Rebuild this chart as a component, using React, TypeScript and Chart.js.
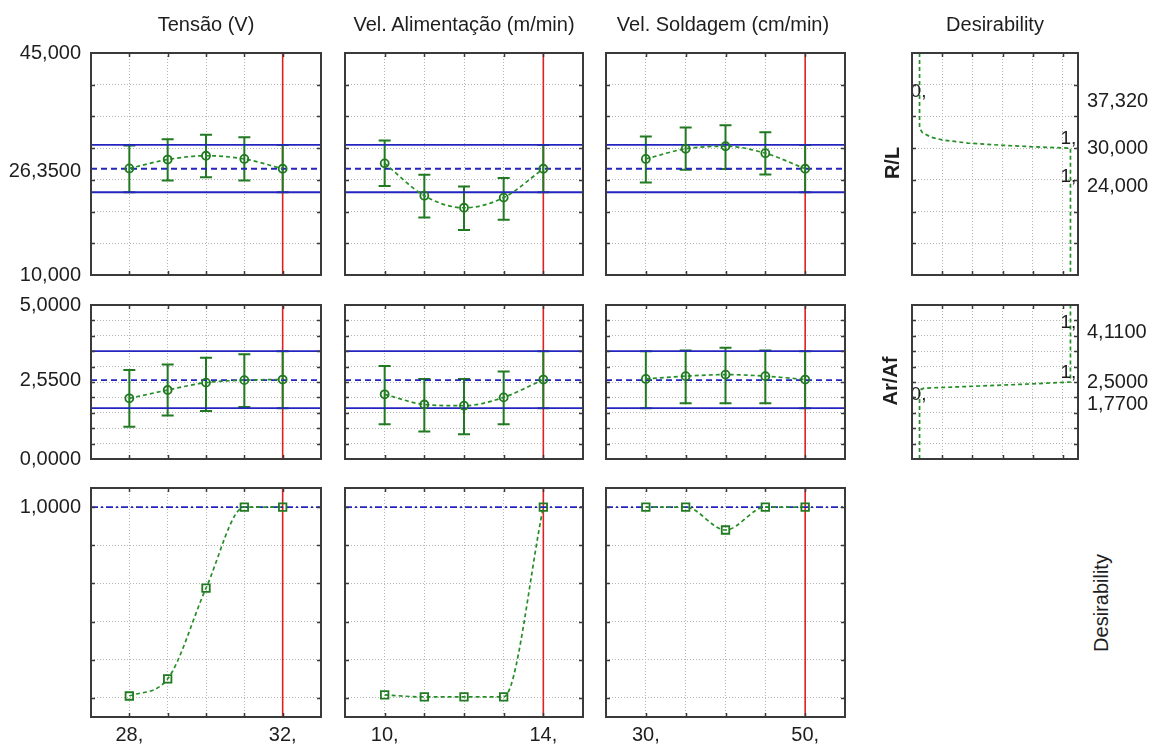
import React, { useEffect, useRef } from "react";
import { Chart, registerables } from "chart.js";

Chart.register(...registerables);

// ================= DATA =================
const COLUMN_TITLES = ["Tensão (V)", "Vel. Alimentação (m/min)", "Vel. Soldagem (cm/min)", "Desirability"];
const ROW_TITLES = ["R/L", "Ar/Af", "Desirability"];

// factor levels (x categories)
const TENSAO_LEVELS = [28, 29, 30, 31, 32];
const VALIM_LEVELS = [10, 11, 12, 13, 14];
const VSOLD_LEVELS = [30, 35, 40, 45, 50];
const CURRENT_SETTINGS = [32, 14, 50];

const TENSAO_RANGE = [27, 33];
const VALIM_RANGE = [9, 15];
const VSOLD_RANGE = [25, 55];

const TENSAO_TICKS = [28, 32];
const TENSAO_TICK_LABELS = ["28,", "32,"];
const VALIM_TICKS = [10, 14];
const VALIM_TICK_LABELS = ["10,", "14,"];
const VSOLD_TICKS = [30, 50];
const VSOLD_TICK_LABELS = ["30,", "50,"];

// R/L response
const RL_RANGE = [10, 45];
const RL_GRID = [15, 20, 25, 30, 35, 40];
const RL_LEFT_TICKS = [10, 26.35, 45];
const RL_LEFT_LABELS = ["10,000", "26,3500", "45,000"];
const RL_PRED = 26.75;
const RL_CI_LO = 23.05;
const RL_CI_HI = 30.5;
const RL_TENSAO_MEAN = [26.8, 28.2, 28.8, 28.3, 26.75];
const RL_TENSAO_LO = [23.05, 24.9, 25.4, 24.9, 23.05];
const RL_TENSAO_HI = [30.4, 31.4, 32.1, 31.7, 30.5];
const RL_VALIM_MEAN = [27.6, 22.5, 20.6, 22.2, 26.75];
const RL_VALIM_LO = [24.05, 19.05, 17.1, 18.7, 23.05];
const RL_VALIM_HI = [31.2, 25.8, 23.95, 25.3, 30.5];
const RL_VSOLD_MEAN = [28.3, 29.9, 30.3, 29.2, 26.75];
const RL_VSOLD_LO = [24.6, 26.6, 26.7, 25.85, 23.05];
const RL_VSOLD_HI = [31.85, 33.25, 33.6, 32.5, 30.5];

// Ar/Af response
const AR_RANGE = [0, 5];
const AR_GRID = [0.5, 1, 1.5, 2, 2.5, 3, 3.5, 4, 4.5];
const AR_LEFT_TICKS = [0, 2.55, 5];
const AR_LEFT_LABELS = ["0,0000", "2,5500", "5,0000"];
const AR_PRED = 2.56;
const AR_CI_LO = 1.65;
const AR_CI_HI = 3.5;
const AR_TENSAO_MEAN = [1.97, 2.24, 2.48, 2.56, 2.58];
const AR_TENSAO_LO = [1.05, 1.41, 1.56, 1.69, 1.65];
const AR_TENSAO_HI = [2.89, 3.07, 3.29, 3.4, 3.5];
const AR_VALIM_MEAN = [2.1, 1.77, 1.73, 2.0, 2.58];
const AR_VALIM_LO = [1.13, 0.89, 0.8, 1.13, 1.65];
const AR_VALIM_HI = [3.02, 2.6, 2.6, 2.84, 3.5];
const AR_VSOLD_MEAN = [2.6, 2.69, 2.74, 2.69, 2.58];
const AR_VSOLD_LO = [1.65, 1.81, 1.81, 1.81, 1.65];
const AR_VSOLD_HI = [3.5, 3.52, 3.61, 3.52, 3.5];

// overall desirability
const DES_RANGE = [-0.1, 1.1];
const DES_GRID = [0, 0.2, 0.4, 0.6, 0.8, 1];
const DES_LEFT_TICKS = [1];
const DES_LEFT_LABELS = ["1,0000"];
const DES_PRED = 1;
const DES_TENSAO = [0.01, 0.1, 0.575, 1, 1];
const DES_VALIM = [0.016, 0.005, 0.005, 0.005, 1];
const DES_VSOLD = [1, 1, 0.88, 1, 1];

// individual desirability functions (right column)
const DES_X_RANGE = [-0.05, 1.05];
const DES_X_GRID = [0.15, 0.35, 0.55, 0.75, 0.95];
const RL_RIGHT_TICKS = [24, 30, 37.32];
const RL_RIGHT_LABELS = ["24,000", "30,000", "37,320"];
const AR_RIGHT_TICKS = [1.77, 2.5, 4.11];
const AR_RIGHT_LABELS = ["1,7700", "2,5000", "4,1100"];
const RL_DES_CURVE_D = [0, 0, 0.02, 0.08, 0.15, 0.32, 0.55, 0.76, 1, 1];
const RL_DES_CURVE_V = [45, 33.2, 32.4, 31.7, 31.3, 30.8, 30.45, 30.2, 30.0, 10];
const AR_DES_CURVE_D = [0, 0, 0.03, 0.4, 0.75, 1, 1];
const AR_DES_CURVE_V = [0, 2.24, 2.3, 2.37, 2.44, 2.5, 5];
const RL_DES_MARK_D = [0, 1, 1];
const RL_DES_MARK_V = [37.32, 30, 24];
const RL_DES_MARK_T = ["0,", "1,", "1,"];
const AR_DES_MARK_D = [0, 1, 1];
const AR_DES_MARK_V = [1.77, 2.5, 4.11];
const AR_DES_MARK_T = ["0,", "1,", "1,"];

// ================= STYLE / LAYOUT =================
const GREEN = "#217a21";
const GREEN_DASH = "#268e26";
const BLUE = "#2424c0";
const RED = "#dd2020";
const GRID = "#b4b4b4";
const FRAME = "#3a3a3a";
const INK = "#1e1e1e";
const FONT = "'Liberation Sans', Arial, Helvetica, sans-serif";
const PAD = 20;

const COLS = [
  { l: 91, w: 230 },
  { l: 345, w: 238 },
  { l: 606, w: 239 },
  { l: 912, w: 166 },
];
const ROWS = [
  { t: 53, h: 222 },
  { t: 305, h: 154 },
  { t: 488, h: 229 },
];

// ================= HELPERS =================
const FACTORS = [
  { levels: TENSAO_LEVELS, range: TENSAO_RANGE, ticks: TENSAO_TICKS, labels: TENSAO_TICK_LABELS, current: CURRENT_SETTINGS[0] },
  { levels: VALIM_LEVELS, range: VALIM_RANGE, ticks: VALIM_TICKS, labels: VALIM_TICK_LABELS, current: CURRENT_SETTINGS[1] },
  { levels: VSOLD_LEVELS, range: VSOLD_RANGE, ticks: VSOLD_TICKS, labels: VSOLD_TICK_LABELS, current: CURRENT_SETTINGS[2] },
];

const RESPONSES: any[] = [
  {
    range: RL_RANGE, grid: RL_GRID, leftTicks: RL_LEFT_TICKS, leftLabels: RL_LEFT_LABELS,
    pred: RL_PRED, ciLo: RL_CI_LO, ciHi: RL_CI_HI, marker: "circle", predDash: [6, 4],
    means: [RL_TENSAO_MEAN, RL_VALIM_MEAN, RL_VSOLD_MEAN],
    lo: [RL_TENSAO_LO, RL_VALIM_LO, RL_VSOLD_LO],
    hi: [RL_TENSAO_HI, RL_VALIM_HI, RL_VSOLD_HI],
  },
  {
    range: AR_RANGE, grid: AR_GRID, leftTicks: AR_LEFT_TICKS, leftLabels: AR_LEFT_LABELS,
    pred: AR_PRED, ciLo: AR_CI_LO, ciHi: AR_CI_HI, marker: "circle", predDash: [6, 4],
    means: [AR_TENSAO_MEAN, AR_VALIM_MEAN, AR_VSOLD_MEAN],
    lo: [AR_TENSAO_LO, AR_VALIM_LO, AR_VSOLD_LO],
    hi: [AR_TENSAO_HI, AR_VALIM_HI, AR_VSOLD_HI],
  },
  {
    range: DES_RANGE, grid: DES_GRID, leftTicks: DES_LEFT_TICKS, leftLabels: DES_LEFT_LABELS,
    pred: DES_PRED, ciLo: null, ciHi: null, marker: "rect", predDash: [7, 3, 2, 3],
    means: [DES_TENSAO, DES_VALIM, DES_VSOLD],
    lo: null, hi: null,
  },
];

function fixTicks(values: number[]) {
  return (s: any) => {
    s.ticks = values.map((v) => ({ value: v }));
  };
}

function zeroPad(s: any) {
  s.paddingTop = 0;
  s.paddingBottom = 0;
  s.paddingLeft = 0;
  s.paddingRight = 0;
}

function gridAxis(pos: string, range: number[], values: number[]) {
  return {
    type: "linear",
    position: pos,
    min: range[0],
    max: range[1],
    afterBuildTicks: fixTicks(values),
    afterFit: (s: any) => {
      if (pos === "bottom") s.height = 0;
      else s.width = 0;
      zeroPad(s);
    },
    ticks: { display: false },
    grid: { display: true, color: GRID, lineWidth: 1, drawTicks: false },
    border: { display: false, dash: [1, 2] },
  };
}

function labelAxis(pos: string, range: number[], values: number[], labels: string[], size: number, padding: number) {
  return {
    type: "linear",
    position: pos,
    min: range[0],
    max: range[1],
    afterBuildTicks: fixTicks(values),
    afterFit: (s: any) => {
      if (pos === "bottom") s.height = size;
      else s.width = size;
      zeroPad(s);
    },
    ticks: {
      display: true,
      autoSkip: false,
      maxRotation: 0,
      minRotation: 0,
      padding,
      color: INK,
      font: { family: FONT, size: 20 },
      callback: (_v: any, i: number) => labels[i],
    },
    grid: { display: false, drawTicks: false },
    border: { display: false },
  };
}

const framePlugin = {
  id: "frame",
  afterDraw(chart: any) {
    const { ctx, chartArea: a } = chart;
    const xs = chart.scales.x;
    const ys = chart.scales.y;
    ctx.save();
    ctx.setLineDash([]);
    ctx.strokeStyle = FRAME;
    ctx.lineWidth = 1.5;
    ctx.beginPath();
    xs.ticks.forEach((t: any) => {
      const px = Math.round(xs.getPixelForValue(t.value)) + 0.5;
      ctx.moveTo(px, a.top);
      ctx.lineTo(px, a.top + 4);
      ctx.moveTo(px, a.bottom);
      ctx.lineTo(px, a.bottom - 4);
    });
    ys.ticks.forEach((t: any) => {
      const py = Math.round(ys.getPixelForValue(t.value)) + 0.5;
      ctx.moveTo(a.left, py);
      ctx.lineTo(a.left + 4, py);
      ctx.moveTo(a.right, py);
      ctx.lineTo(a.right - 4, py);
    });
    ctx.stroke();
    ctx.lineWidth = 2;
    ctx.strokeRect(a.left, a.top, a.right - a.left, a.bottom - a.top);
    ctx.restore();
  },
};

function makeErrorBarPlugin(xs: number[], lo: number[], hi: number[], afterIndex: number) {
  return {
    id: "errorBars",
    afterDatasetDraw(chart: any, args: any) {
      if (args.index !== afterIndex) return;
      const { ctx, chartArea: a } = chart;
      const sx = chart.scales.x;
      const sy = chart.scales.y;
      ctx.save();
      ctx.beginPath();
      ctx.rect(a.left, a.top, a.right - a.left, a.bottom - a.top);
      ctx.clip();
      ctx.setLineDash([]);
      ctx.strokeStyle = GREEN;
      ctx.lineWidth = 2;
      ctx.beginPath();
      xs.forEach((xv, i) => {
        const px = sx.getPixelForValue(xv);
        const top = sy.getPixelForValue(hi[i]);
        const bot = sy.getPixelForValue(lo[i]);
        ctx.moveTo(px, top);
        ctx.lineTo(px, bot);
        ctx.moveTo(px - 6, top);
        ctx.lineTo(px + 6, top);
        ctx.moveTo(px - 6, bot);
        ctx.lineTo(px + 6, bot);
      });
      ctx.stroke();
      ctx.restore();
    },
  };
}

function makeTextPlugin(ds: number[], vs: number[], ts: string[]) {
  return {
    id: "textMarks",
    afterDatasetsDraw(chart: any) {
      const { ctx, chartArea: a } = chart;
      const sx = chart.scales.x;
      const sy = chart.scales.y;
      ctx.save();
      ctx.beginPath();
      ctx.rect(a.left, a.top, a.right - a.left + 2, a.bottom - a.top);
      ctx.clip();
      ctx.font = `19px ${FONT}`;
      ctx.fillStyle = INK;
      ctx.textAlign = "center";
      ctx.textBaseline = "bottom";
      ts.forEach((t, i) => {
        const px = sx.getPixelForValue(ds[i]);
        ctx.fillText(t, ds[i] > 0.5 ? px - 2 : px - 1, sy.getPixelForValue(vs[i]));
      });
      ctx.restore();
    },
  };
}

function hLine(x0: number, x1: number, y: number, color: string, width: number, dash: number[], order: number) {
  return {
    data: [{ x: x0, y }, { x: x1, y }],
    showLine: true,
    borderColor: color,
    borderWidth: width,
    borderDash: dash,
    pointRadius: 0,
    order,
    clip: 0,
  };
}

function buildProfileConfig(r: number, c: number) {
  const f = FACTORS[c];
  const s = RESPONSES[r];
  const datasets: any[] = [];
  datasets.push({
    data: f.levels.map((x, i) => ({ x, y: s.means[c][i] })),
    showLine: true,
    borderColor: GREEN_DASH,
    borderWidth: 1.7,
    borderDash: [4, 3],
    cubicInterpolationMode: "monotone",
    pointStyle: s.marker,
    pointRadius: s.marker === "rect" ? 5.3 : 4,
    pointBorderColor: GREEN,
    pointBorderWidth: 1.8,
    pointBackgroundColor: "rgba(0,0,0,0)",
    order: 0,
    clip: 0,
  });
  if (s.ciLo != null) {
    datasets.push(hLine(f.range[0], f.range[1], s.ciHi, BLUE, 1.8, [], 1));
    datasets.push(hLine(f.range[0], f.range[1], s.ciLo, BLUE, 1.8, [], 1));
  }
  datasets.push(hLine(f.range[0], f.range[1], s.pred, BLUE, 1.8, s.predDash, 1));
  datasets.push({
    data: [{ x: f.current, y: s.range[0] }, { x: f.current, y: s.range[1] }],
    showLine: true,
    borderColor: RED,
    borderWidth: 1.6,
    pointRadius: 0,
    order: 3,
    clip: 0,
  });
  const redIndex = datasets.length - 1;

  const scales: any = {
    x: gridAxis("bottom", f.range, f.levels),
    y: gridAxis("left", s.range, s.grid),
  };
  if (c === 0) scales.yl = labelAxis("left", s.range, s.leftTicks, s.leftLabels, 85, 10);
  if (r === 2) scales.xb = labelAxis("bottom", f.range, f.ticks, f.labels, 30, 6);

  const plugins: any[] = [framePlugin];
  if (s.lo) plugins.push(makeErrorBarPlugin(f.levels, s.lo[c], s.hi[c], redIndex));

  return {
    config: {
      type: "scatter",
      data: { datasets },
      options: {
        responsive: false,
        animation: false,
        events: [],
        layout: { padding: PAD },
        scales,
        plugins: { legend: { display: false }, tooltip: { enabled: false } },
      },
      plugins,
    },
    ml: c === 0 ? 85 : 0,
    mr: 0,
    mb: r === 2 ? 30 : 0,
  };
}

function buildDesirabilityConfig(r: number) {
  const isRL = r === 0;
  const range = isRL ? RL_RANGE : AR_RANGE;
  const grid = isRL ? RL_GRID : AR_GRID;
  const cd = isRL ? RL_DES_CURVE_D : AR_DES_CURVE_D;
  const cv = isRL ? RL_DES_CURVE_V : AR_DES_CURVE_V;
  const datasets = [
    {
      data: cd.map((d, i) => ({ x: d, y: cv[i] })),
      showLine: true,
      borderColor: GREEN_DASH,
      borderWidth: 1.7,
      borderDash: [4, 3],
      pointRadius: 0,
      order: 0,
      clip: 0,
    },
  ];
  const scales: any = {
    x: gridAxis("bottom", DES_X_RANGE, DES_X_GRID),
    y: gridAxis("left", range, grid),
    yr: labelAxis("right", range, isRL ? RL_RIGHT_TICKS : AR_RIGHT_TICKS, isRL ? RL_RIGHT_LABELS : AR_RIGHT_LABELS, 72, 9),
  };
  const plugins = [
    framePlugin,
    isRL
      ? makeTextPlugin(RL_DES_MARK_D, RL_DES_MARK_V, RL_DES_MARK_T)
      : makeTextPlugin(AR_DES_MARK_D, AR_DES_MARK_V, AR_DES_MARK_T),
  ];
  return {
    config: {
      type: "scatter",
      data: { datasets },
      options: {
        responsive: false,
        animation: false,
        events: [],
        layout: { padding: PAD },
        scales,
        plugins: { legend: { display: false }, tooltip: { enabled: false } },
      },
      plugins,
    },
    ml: 0,
    mr: 72,
    mb: 0,
  };
}

function PanelChart({ box, spec }: { box: { l: number; t: number; w: number; h: number }; spec: any }) {
  const ref = useRef<HTMLCanvasElement>(null);
  const width = PAD * 2 + spec.ml + box.w + spec.mr;
  const height = PAD * 2 + box.h + spec.mb;
  useEffect(() => {
    const chart = new Chart(ref.current as HTMLCanvasElement, spec.config);
    return () => chart.destroy();
  }, []);
  return (
    <canvas
      ref={ref}
      width={width}
      height={height}
      style={{ position: "absolute", left: box.l - spec.ml - PAD, top: box.t - PAD, width, height, display: "block" }}
    />
  );
}

function Txt({ x, y, text, rotate = false, bold = false }: { x: number; y: number; text: string; rotate?: boolean; bold?: boolean }) {
  return (
    <div
      style={{
        position: "absolute",
        left: x,
        top: y,
        transform: `translate(-50%, -50%)${rotate ? " rotate(-90deg)" : ""}`,
        font: `${bold ? "bold " : ""}20px ${FONT}`,
        color: INK,
        whiteSpace: "nowrap",
        lineHeight: 1,
      }}
    >
      {text}
    </div>
  );
}

export default function App() {
  const panels: any[] = [];
  for (let r = 0; r < 3; r++) {
    for (let c = 0; c < 3; c++) {
      panels.push({
        key: `p${r}${c}`,
        box: { l: COLS[c].l, w: COLS[c].w, t: ROWS[r].t, h: ROWS[r].h },
        spec: buildProfileConfig(r, c),
      });
    }
  }
  for (let r = 0; r < 2; r++) {
    panels.push({
      key: `d${r}`,
      box: { l: COLS[3].l, w: COLS[3].w, t: ROWS[r].t, h: ROWS[r].h },
      spec: buildDesirabilityConfig(r),
    });
  }
  const titleX = [206, 464, 723, 995];
  return (
    <div
      style={{
        position: "absolute",
        left: 0,
        top: 0,
        width: 1150,
        height: 746,
        overflow: "hidden",
        background: "#ffffff",
      }}
    >
      {panels.map((p) => (
        <PanelChart key={p.key} box={p.box} spec={p.spec} />
      ))}
      {COLUMN_TITLES.map((t, i) => (
        <Txt key={t} x={titleX[i]} y={24} text={t} />
      ))}
      <Txt x={892} y={163} text={ROW_TITLES[0]} rotate bold />
      <Txt x={890} y={381} text={ROW_TITLES[1]} rotate bold />
      <Txt x={1101} y={603} text={ROW_TITLES[2]} rotate />
    </div>
  );
}
